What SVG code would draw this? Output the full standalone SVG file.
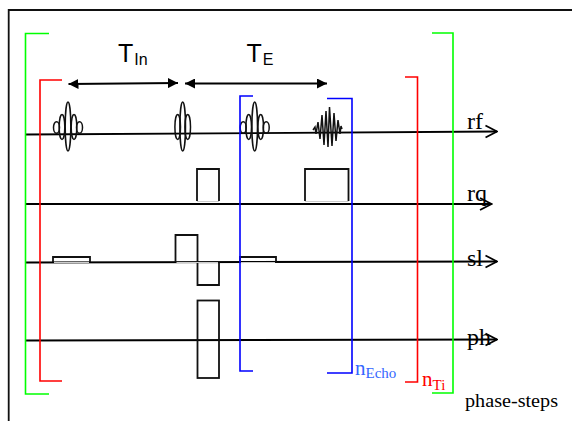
<svg xmlns="http://www.w3.org/2000/svg" width="572" height="421" viewBox="0 0 572 421">
<defs>
<marker id="tri" markerUnits="userSpaceOnUse" markerWidth="11" markerHeight="10" refX="10" refY="5" orient="auto-start-reverse"><path d="M0 0L10 5L0 10Z" fill="#000"/></marker>
<marker id="open" markerUnits="userSpaceOnUse" markerWidth="14" markerHeight="16" refX="12.500" refY="8" orient="auto"><path d="M1 2L12.500 8L1 14" fill="none" stroke="#000" stroke-width="1.800"/></marker>
<g id="lobe5"><ellipse cx="0" cy="0" rx="2.800" ry="24.500"/><ellipse cx="-6" cy="0.500" rx="2.800" ry="12.500"/><ellipse cx="6" cy="0.500" rx="2.800" ry="12.500"/><ellipse cx="-11.500" cy="1" rx="3" ry="5.700"/><ellipse cx="11.500" cy="1" rx="3" ry="5.700"/></g>
</defs>
<style>
.k{fill:none;stroke:#111;stroke-width:1.800}
.l{fill:none;stroke:#000;stroke-width:1.800}
.p{fill:none;stroke:#111;stroke-width:1.500}
.q{fill:none;stroke:#111;stroke-width:1.800}
.w{fill:none;stroke:#ccc;stroke-width:1.200}
.g{fill:none;stroke:#0f0;stroke-width:1.600}
.r{fill:none;stroke:#f00;stroke-width:1.600}
.b{fill:none;stroke:#00f;stroke-width:1.600}
.s{font-family:"Liberation Serif",serif;font-size:24px;fill:#000}
.a{font-family:"Liberation Sans",sans-serif;fill:#000}
text{white-space:pre}
</style>
<g id="frame"><path class="k" d="M8.700 421V10H572"/></g>
<g id="connectors">
<path class="l" marker-end="url(#open)" d="M26 134.500L497 131.500"/>
<path class="l" marker-end="url(#open)" d="M26 204H491.500"/>
<path class="l" marker-end="url(#open)" d="M26 262.500L497 261.500"/>
<path class="l" marker-end="url(#open)" d="M26 340.500L497 339.500"/>
<path class="l" marker-start="url(#tri)" marker-end="url(#tri)" d="M68.500 84L178 83"/>
<path class="l" marker-start="url(#tri)" marker-end="url(#tri)" d="M185 83.500L327 83.500"/>
</g>
<g id="pulses">
<use href="#lobe5" x="68" y="126.500" class="p"/>
<g class="p" transform="translate(182.700 126.500)"><ellipse rx="2.800" ry="24.500"/><ellipse cx="-5" cy="0.500" rx="2.800" ry="12.500"/><ellipse cx="5" cy="0.500" rx="2.800" ry="12.500"/></g>
<use href="#lobe5" x="254.700" y="126.500" class="p"/>
<path class="p" stroke-width="1.300" d="M313 130L315 127L316 134L318 122L320 139L322 115L324 145L326 111L328 147L329.500 107L332 146L334 113L336 141L338 120L340 134L341 126L342 129"/>
<path class="q" d="M197 201V169H219V201"/>
<path class="q" d="M305 201V169H348.500V201"/>
<path class="w" d="M197 201.500H219M305 201.500H348.500"/>
<path class="q" d="M53 262V257H90V262"/>
<path class="q" d="M175.500 262V235H197.500V262"/>
<path class="q" d="M197.500 262V285H219V262"/>
<path class="q" d="M240 262V257H276V262"/>
<path class="w" d="M54 262.500H89M176.500 262.500H218M241 262.500H275"/>
<rect class="q" x="197.500" y="300.500" width="21.500" height="77.500"/>
</g>
<g id="bracket-green"><path class="g" d="M49 33.500H25.500V394H49"/><path class="g" d="M432 33H453V393H432"/></g>
<g id="bracket-red"><path class="r" d="M62 80H40V381H62"/><path class="r" d="M405 77H417.500V382H405"/></g>
<g id="bracket-blue"><path class="b" d="M253 96H240V371H253"/><path class="b" d="M327 98.500H352V373H327"/></g>
<g id="labels">
<text class="a" x="118" y="62" font-size="25">T<tspan font-size="16" dx="1" dy="3">In</tspan></text>
<text class="a" x="246.500" y="62" font-size="25">T<tspan font-size="16" dx="1" dy="3">E</tspan></text>
<text class="s" x="467" y="129">rf</text>
<text class="s" x="467" y="201">rq</text>
<text class="s" x="467" y="266">sl</text>
<text class="s" x="467" y="345">ph</text>
<text x="355" y="375" font-family="Liberation Serif,serif" font-size="21" fill="#3366ff">n<tspan font-size="15" dy="3">Echo</tspan></text>
<text x="422" y="386" font-family="Liberation Serif,serif" font-size="21" fill="#f00">n<tspan font-size="15" dy="4">Ti</tspan></text>
<text x="465" y="407" font-family="Liberation Serif,serif" font-size="18" fill="#000" textLength="93" lengthAdjust="spacingAndGlyphs">phase-steps</text>
</g>
</svg>
